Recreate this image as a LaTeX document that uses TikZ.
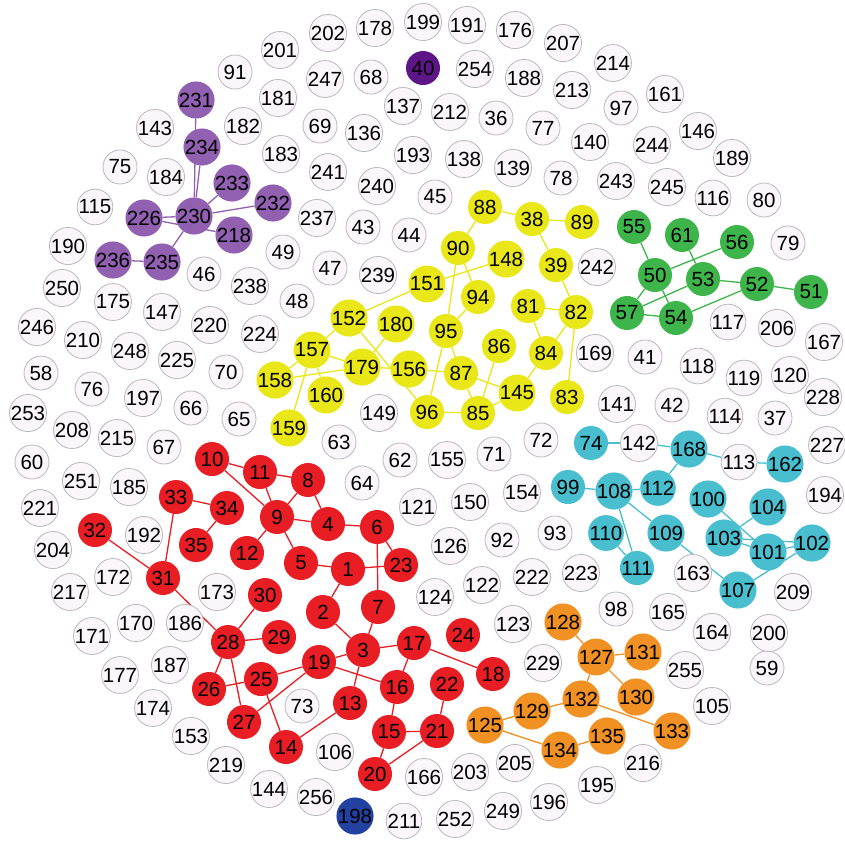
\documentclass[tikz,border=0pt]{standalone}
\usepackage{fontspec}
\setmainfont{Liberation Sans}
\usetikzlibrary{backgrounds}
\definecolor{wfill}{RGB}{251,246,249}
\definecolor{wline}{RGB}{185,185,190}
\definecolor{redv}{RGB}{232,30,36}
\definecolor{yelv}{RGB}{234,231,25}
\definecolor{grnv}{RGB}{61,181,74}
\definecolor{cyav}{RGB}{72,190,206}
\definecolor{orav}{RGB}{241,145,35}
\definecolor{purv}{RGB}{145,96,177}
\definecolor{dpurv}{RGB}{92,22,135}
\definecolor{bluv}{RGB}{35,65,160}
\begin{document}
\begin{tikzpicture}[x=1pt, y=-1pt,
  vtx/.style={circle, inner sep=0pt, minimum size=34pt,
    font=\fontsize{20.5}{20.5}\selectfont},
  wn/.style={vtx, draw=wline, fill=wfill, line width=0.8pt},
  rn/.style={vtx, fill=redv},
  yn/.style={vtx, fill=yelv},
  gn/.style={vtx, fill=grnv},
  cn/.style={vtx, fill=cyav},
  on/.style={vtx, fill=orav},
  pn/.style={vtx, fill=purv},
  re/.style={draw=redv, line width=1.3pt},
  ye/.style={draw=yelv, line width=1.3pt},
  ge/.style={draw=grnv, line width=1.3pt},
  ce/.style={draw=cyav, line width=1.3pt},
  oe/.style={draw=orav, line width=1.3pt},
  pe/.style={draw=purv, line width=1.3pt}]
  \useasboundingbox (0,0) rectangle (845,844);
  % uncoloured vertices
  \node[wn] (n199) at (423,22) {199};
  \node[wn] (n191) at (467,25) {191};
  \node[wn] (n176) at (515,30) {176};
  \node[wn] (n207) at (563,43) {207};
  \node[wn] (n178) at (375,28) {178};
  \node[wn] (n202) at (328,33) {202};
  \node[wn] (n201) at (280,50) {201};
  \node[wn] (n91) at (235,72) {91};
  \node[wn] (n254) at (475,69) {254};
  \node[wn] (n188) at (524,78) {188};
  \node[wn] (n214) at (613,63) {214};
  \node[wn] (n213) at (572,90) {213};
  \node[wn] (n161) at (665,94) {161};
  \node[wn] (n97) at (621,108) {97};
  \node[wn] (n247) at (325,79) {247};
  \node[wn] (n68) at (371,77) {68};
  \node[wn] (n181) at (278,98) {181};
  \node[wn] (n137) at (403,106) {137};
  \node[wn] (n212) at (450,112) {212};
  \node[wn] (n36) at (496,118) {36};
  \node[wn] (n77) at (543,128) {77};
  \node[wn] (n140) at (590,142) {140};
  \node[wn] (n244) at (652,145) {244};
  \node[wn] (n146) at (698,131) {146};
  \node[wn] (n189) at (732,158) {189};
  \node[wn] (n143) at (155,128) {143};
  \node[wn] (n182) at (243,126) {182};
  \node[wn] (n69) at (320,126) {69};
  \node[wn] (n136) at (364,133) {136};
  \node[wn] (n193) at (413,155) {193};
  \node[wn] (n138) at (464,159) {138};
  \node[wn] (n139) at (513,168) {139};
  \node[wn] (n78) at (561,178) {78};
  \node[wn] (n243) at (616,181) {243};
  \node[wn] (n245) at (667,187) {245};
  \node[wn] (n116) at (713,198) {116};
  \node[wn] (n80) at (764,200) {80};
  \node[wn] (n183) at (281,154) {183};
  \node[wn] (n75) at (120,167) {75};
  \node[wn] (n184) at (166,177) {184};
  \node[wn] (n115) at (95,207) {115};
  \node[wn] (n241) at (328,172) {241};
  \node[wn] (n240) at (377,186) {240};
  \node[wn] (n45) at (435,197) {45};
  \node[wn] (n237) at (317,218) {237};
  \node[wn] (n43) at (363,227) {43};
  \node[wn] (n44) at (409,235) {44};
  \node[wn] (n49) at (283,252) {49};
  \node[wn] (n47) at (330,268) {47};
  \node[wn] (n239) at (378,275) {239};
  \node[wn] (n46) at (204,274) {46};
  \node[wn] (n190) at (68,246) {190};
  \node[wn] (n250) at (62,288) {250};
  \node[wn] (n238) at (250,286) {238};
  \node[wn] (n48) at (297,301) {48};
  \node[wn] (n175) at (113,302) {175};
  \node[wn] (n147) at (162,312) {147};
  \node[wn] (n220) at (210,325) {220};
  \node[wn] (n224) at (260,334) {224};
  \node[wn] (n246) at (37,327) {246};
  \node[wn] (n210) at (83,340) {210};
  \node[wn] (n248) at (130,351) {248};
  \node[wn] (n225) at (177,360) {225};
  \node[wn] (n70) at (226,372) {70};
  \node[wn] (n58) at (41,373) {58};
  \node[wn] (n76) at (92,389) {76};
  \node[wn] (n197) at (143,398) {197};
  \node[wn] (n66) at (191,408) {66};
  \node[wn] (n65) at (239,419) {65};
  \node[wn] (n253) at (28,413) {253};
  \node[wn] (n208) at (72,430) {208};
  \node[wn] (n215) at (117,438) {215};
  \node[wn] (n67) at (164,447) {67};
  \node[wn] (n60) at (32,462) {60};
  \node[wn] (n251) at (81,481) {251};
  \node[wn] (n185) at (129,487) {185};
  \node[wn] (n221) at (40,508) {221};
  \node[wn] (n204) at (53,550) {204};
  \node[wn] (n192) at (144,535) {192};
  \node[wn] (n217) at (70,592) {217};
  \node[wn] (n172) at (113,577) {172};
  \node[wn] (n171) at (92,636) {171};
  \node[wn] (n170) at (136,623) {170};
  \node[wn] (n186) at (185,623) {186};
  \node[wn] (n173) at (217,592) {173};
  \node[wn] (n177) at (120,675) {177};
  \node[wn] (n187) at (170,665) {187};
  \node[wn] (n174) at (153,708) {174};
  \node[wn] (n153) at (191,736) {153};
  \node[wn] (n219) at (226,765) {219};
  \node[wn] (n144) at (269,789) {144};
  \node[wn] (n256) at (316,797) {256};
  \node[wn] (n106) at (335,752) {106};
  \node[wn] (n73) at (302,706) {73};
  \node[wn] (n166) at (424,777) {166};
  \node[wn] (n203) at (470,772) {203};
  \node[wn] (n205) at (515,763) {205};
  \node[wn] (n211) at (404,821) {211};
  \node[wn] (n252) at (455,819) {252};
  \node[wn] (n249) at (503,811) {249};
  \node[wn] (n196) at (549,802) {196};
  \node[wn] (n195) at (597,785) {195};
  \node[wn] (n216) at (643,763) {216};
  \node[wn] (n105) at (712,706) {105};
  \node[wn] (n255) at (685,670) {255};
  \node[wn] (n59) at (767,668) {59};
  \node[wn] (n200) at (769,633) {200};
  \node[wn] (n164) at (712,632) {164};
  \node[wn] (n165) at (668,612) {165};
  \node[wn] (n98) at (616,609) {98};
  \node[wn] (n229) at (543,663) {229};
  \node[wn] (n123) at (513,624) {123};
  \node[wn] (n124) at (435,597) {124};
  \node[wn] (n122) at (482,585) {122};
  \node[wn] (n222) at (532,577) {222};
  \node[wn] (n223) at (581,573) {223};
  \node[wn] (n163) at (693,573) {163};
  \node[wn] (n209) at (793,592) {209};
  \node[wn] (n93) at (555,533) {93};
  \node[wn] (n126) at (450,546) {126};
  \node[wn] (n92) at (502,540) {92};
  \node[wn] (n121) at (418,507) {121};
  \node[wn] (n150) at (470,502) {150};
  \node[wn] (n154) at (522,493) {154};
  \node[wn] (n64) at (362,483) {64};
  \node[wn] (n62) at (400,460) {62};
  \node[wn] (n155) at (447,460) {155};
  \node[wn] (n71) at (494,454) {71};
  \node[wn] (n72) at (541,440) {72};
  \node[wn] (n63) at (339,442) {63};
  \node[wn] (n149) at (379,413) {149};
  \node[wn] (n141) at (617,404) {141};
  \node[wn] (n42) at (672,405) {42};
  \node[wn] (n114) at (725,416) {114};
  \node[wn] (n37) at (775,418) {37};
  \node[wn] (n228) at (823,397) {228};
  \node[wn] (n227) at (827,445) {227};
  \node[wn] (n194) at (825,495) {194};
  \node[wn] (n142) at (639,443) {142};
  \node[wn] (n113) at (739,462) {113};
  \node[wn] (n169) at (595,353) {169};
  \node[wn] (n41) at (645,357) {41};
  \node[wn] (n118) at (698,366) {118};
  \node[wn] (n119) at (744,378) {119};
  \node[wn] (n120) at (790,375) {120};
  \node[wn] (n167) at (824,342) {167};
  \node[wn] (n117) at (728,322) {117};
  \node[wn] (n206) at (777,328) {206};
  \node[wn] (n79) at (788,243) {79};
  \node[wn] (n242) at (597,267) {242};
  % single coloured vertices
  \node[vtx, fill=dpurv] (n40) at (423,68) {40};
  \node[vtx, fill=bluv] (n198) at (355,816) {198};
  % purple group
  \node[pn] (n231) at (196,100) {231};
  \node[pn] (n234) at (202,147) {234};
  \node[pn] (n233) at (232,183) {233};
  \node[pn] (n232) at (273,203) {232};
  \node[pn] (n230) at (194,216) {230};
  \node[pn] (n226) at (144,218) {226};
  \node[pn] (n218) at (234,235) {218};
  \node[pn] (n236) at (113,260) {236};
  \node[pn] (n235) at (162,262) {235};
  % yellow group
  \node[yn] (n88) at (485,207) {88};
  \node[yn] (n38) at (532,219) {38};
  \node[yn] (n89) at (582,222) {89};
  \node[yn] (n90) at (458,248) {90};
  \node[yn] (n148) at (506,259) {148};
  \node[yn] (n39) at (556,265) {39};
  \node[yn] (n151) at (427,284) {151};
  \node[yn] (n94) at (478,297) {94};
  \node[yn] (n81) at (528,306) {81};
  \node[yn] (n82) at (576,312) {82};
  \node[yn] (n152) at (349,318) {152};
  \node[yn] (n180) at (396,324) {180};
  \node[yn] (n95) at (446,331) {95};
  \node[yn] (n86) at (499,346) {86};
  \node[yn] (n84) at (546,353) {84};
  \node[yn] (n157) at (312,350) {157};
  \node[yn] (n179) at (362,367) {179};
  \node[yn] (n156) at (409,369) {156};
  \node[yn] (n87) at (461,373) {87};
  \node[yn] (n158) at (275,380) {158};
  \node[yn] (n160) at (326,395) {160};
  \node[yn] (n145) at (517,393) {145};
  \node[yn] (n83) at (567,397) {83};
  \node[yn] (n96) at (427,412) {96};
  \node[yn] (n85) at (478,413) {85};
  \node[yn] (n159) at (289,428) {159};
  % green group
  \node[gn] (n55) at (634,227) {55};
  \node[gn] (n61) at (682,235) {61};
  \node[gn] (n56) at (737,242) {56};
  \node[gn] (n50) at (655,275) {50};
  \node[gn] (n53) at (703,279) {53};
  \node[gn] (n52) at (757,284) {52};
  \node[gn] (n51) at (811,292) {51};
  \node[gn] (n57) at (627,313) {57};
  \node[gn] (n54) at (676,318) {54};
  % cyan group
  \node[cn] (n74) at (591,443) {74};
  \node[cn] (n168) at (689,449) {168};
  \node[cn] (n162) at (785,464) {162};
  \node[cn] (n99) at (568,487) {99};
  \node[cn] (n108) at (614,491) {108};
  \node[cn] (n112) at (658,488) {112};
  \node[cn] (n100) at (708,499) {100};
  \node[cn] (n104) at (768,507) {104};
  \node[cn] (n110) at (606,533) {110};
  \node[cn] (n109) at (666,533) {109};
  \node[cn] (n103) at (724,538) {103};
  \node[cn] (n101) at (768,552) {101};
  \node[cn] (n102) at (812,543) {102};
  \node[cn] (n111) at (637,568) {111};
  \node[cn] (n107) at (738,590) {107};
  % red group
  \node[rn] (n10) at (212,459) {10};
  \node[rn] (n11) at (260,472) {11};
  \node[rn] (n8) at (308,480) {8};
  \node[rn] (n9) at (277,517) {9};
  \node[rn] (n4) at (328,524) {4};
  \node[rn] (n6) at (377,527) {6};
  \node[rn] (n33) at (176,497) {33};
  \node[rn] (n34) at (227,508) {34};
  \node[rn] (n35) at (196,545) {35};
  \node[rn] (n32) at (95,530) {32};
  \node[rn] (n12) at (247,553) {12};
  \node[rn] (n5) at (301,563) {5};
  \node[rn] (n1) at (348,569) {1};
  \node[rn] (n23) at (401,565) {23};
  \node[rn] (n31) at (163,578) {31};
  \node[rn] (n30) at (265,595) {30};
  \node[rn] (n2) at (323,612) {2};
  \node[rn] (n7) at (378,607) {7};
  \node[rn] (n28) at (228,642) {28};
  \node[rn] (n29) at (279,637) {29};
  \node[rn] (n3) at (363,650) {3};
  \node[rn] (n17) at (414,643) {17};
  \node[rn] (n24) at (463,635) {24};
  \node[rn] (n19) at (319,662) {19};
  \node[rn] (n25) at (261,679) {25};
  \node[rn] (n26) at (209,689) {26};
  \node[rn] (n16) at (397,687) {16};
  \node[rn] (n22) at (447,684) {22};
  \node[rn] (n18) at (493,674) {18};
  \node[rn] (n13) at (350,703) {13};
  \node[rn] (n27) at (244,722) {27};
  \node[rn] (n15) at (389,732) {15};
  \node[rn] (n21) at (437,731) {21};
  \node[rn] (n14) at (286,747) {14};
  \node[rn] (n20) at (375,774) {20};
  % orange group
  \node[on] (n128) at (563,622) {128};
  \node[on] (n127) at (596,657) {127};
  \node[on] (n131) at (643,652) {131};
  \node[on] (n132) at (581,699) {132};
  \node[on] (n130) at (636,697) {130};
  \node[on] (n129) at (532,711) {129};
  \node[on] (n125) at (485,725) {125};
  \node[on] (n133) at (672,731) {133};
  \node[on] (n135) at (607,736) {135};
  \node[on] (n134) at (560,750) {134};
  % links, under the vertices
  \begin{scope}[on background layer]
    \fill[white] (0,0) rectangle (845,844);
    \draw[pe] (n231) -- (n230);
    \draw[pe] (n234) -- (n230);
    \draw[pe] (n233) -- (n230);
    \draw[pe] (n232) -- (n230);
    \draw[pe] (n226) -- (n230);
    \draw[pe] (n226) -- (n218);
    \draw[pe] (n230) -- (n235);
    \draw[pe] (n235) -- (n236);
    \draw[ye] (n88) -- (n38);
    \draw[ye] (n38) -- (n89);
    \draw[ye] (n38) -- (n39);
    \draw[ye] (n88) -- (n90);
    \draw[ye] (n39) -- (n82);
    \draw[ye] (n81) -- (n82);
    \draw[ye] (n81) -- (n84);
    \draw[ye] (n82) -- (n84);
    \draw[ye] (n82) -- (n83);
    \draw[ye] (n90) -- (n94);
    \draw[ye] (n90) -- (n95);
    \draw[ye] (n94) -- (n95);
    \draw[ye] (n151) -- (n148);
    \draw[ye] (n151) -- (n152);
    \draw[ye] (n152) -- (n157);
    \draw[ye] (n152) -- (n96);
    \draw[ye] (n157) -- (n179);
    \draw[ye] (n157) -- (n158);
    \draw[ye] (n157) -- (n160);
    \draw[ye] (n157) -- (n159);
    \draw[ye] (n158) -- (n179);
    \draw[ye] (n179) -- (n180);
    \draw[ye] (n179) -- (n156);
    \draw[ye] (n156) -- (n87);
    \draw[ye] (n95) -- (n87);
    \draw[ye] (n95) -- (n96);
    \draw[ye] (n96) -- (n85);
    \draw[ye] (n87) -- (n85);
    \draw[ye] (n87) -- (n145);
    \draw[ye] (n86) -- (n85);
    \draw[ye] (n85) -- (n145);
    \draw[ye] (n145) -- (n84);
    \draw[ge] (n55) -- (n50);
    \draw[ge] (n61) -- (n53);
    \draw[ge] (n50) -- (n56);
    \draw[ge] (n50) -- (n57);
    \draw[ge] (n50) -- (n54);
    \draw[ge] (n53) -- (n52);
    \draw[ge] (n53) -- (n57);
    \draw[ge] (n52) -- (n51);
    \draw[ge] (n52) -- (n54);
    \draw[ge] (n57) -- (n54);
    \draw[ce] (n74) -- (n142);
    \draw[ce] (n142) -- (n168);
    \draw[ce] (n168) -- (n113);
    \draw[ce] (n113) -- (n162);
    \draw[ce] (n168) -- (n112);
    \draw[ce] (n99) -- (n108);
    \draw[ce] (n108) -- (n112);
    \draw[ce] (n108) -- (n111);
    \draw[ce] (n108) -- (n109);
    \draw[ce] (n110) -- (n111);
    \draw[ce] (n109) -- (n107);
    \draw[ce] (n100) -- (n101);
    \draw[ce] (n103) -- (n104);
    \draw[ce] (n103) -- (n101);
    \draw[ce] (n103) -- (n102);
    \draw[ce] (n101) -- (n102);
    \draw[ce] (n107) -- (n102);
    \draw[re] (n10) -- (n11);
    \draw[re] (n10) -- (n9);
    \draw[re] (n11) -- (n8);
    \draw[re] (n11) -- (n9);
    \draw[re] (n8) -- (n9);
    \draw[re] (n8) -- (n4);
    \draw[re] (n9) -- (n4);
    \draw[re] (n9) -- (n12);
    \draw[re] (n9) -- (n5);
    \draw[re] (n4) -- (n6);
    \draw[re] (n6) -- (n23);
    \draw[re] (n6) -- (n7);
    \draw[re] (n5) -- (n1);
    \draw[re] (n1) -- (n23);
    \draw[re] (n1) -- (n2);
    \draw[re] (n2) -- (n3);
    \draw[re] (n7) -- (n3);
    \draw[re] (n33) -- (n34);
    \draw[re] (n34) -- (n35);
    \draw[re] (n33) -- (n31);
    \draw[re] (n32) -- (n31);
    \draw[re] (n31) -- (n28);
    \draw[re] (n28) -- (n30);
    \draw[re] (n28) -- (n29);
    \draw[re] (n28) -- (n26);
    \draw[re] (n28) -- (n27);
    \draw[re] (n3) -- (n19);
    \draw[re] (n3) -- (n17);
    \draw[re] (n3) -- (n13);
    \draw[re] (n19) -- (n25);
    \draw[re] (n19) -- (n16);
    \draw[re] (n19) -- (n27);
    \draw[re] (n25) -- (n26);
    \draw[re] (n25) -- (n14);
    \draw[re] (n14) -- (n13);
    \draw[re] (n17) -- (n16);
    \draw[re] (n17) -- (n18);
    \draw[re] (n16) -- (n15);
    \draw[re] (n15) -- (n21);
    \draw[re] (n15) -- (n20);
    \draw[re] (n20) -- (n21);
    \draw[re] (n22) -- (n21);
    \draw[oe] (n128) -- (n127);
    \draw[oe] (n127) -- (n131);
    \draw[oe] (n127) -- (n132);
    \draw[oe] (n127) -- (n130);
    \draw[oe] (n132) -- (n129);
    \draw[oe] (n132) -- (n133);
    \draw[oe] (n129) -- (n125);
    \draw[oe] (n125) -- (n134);
    \draw[oe] (n134) -- (n135);
  \end{scope}
\end{tikzpicture}
\end{document}
